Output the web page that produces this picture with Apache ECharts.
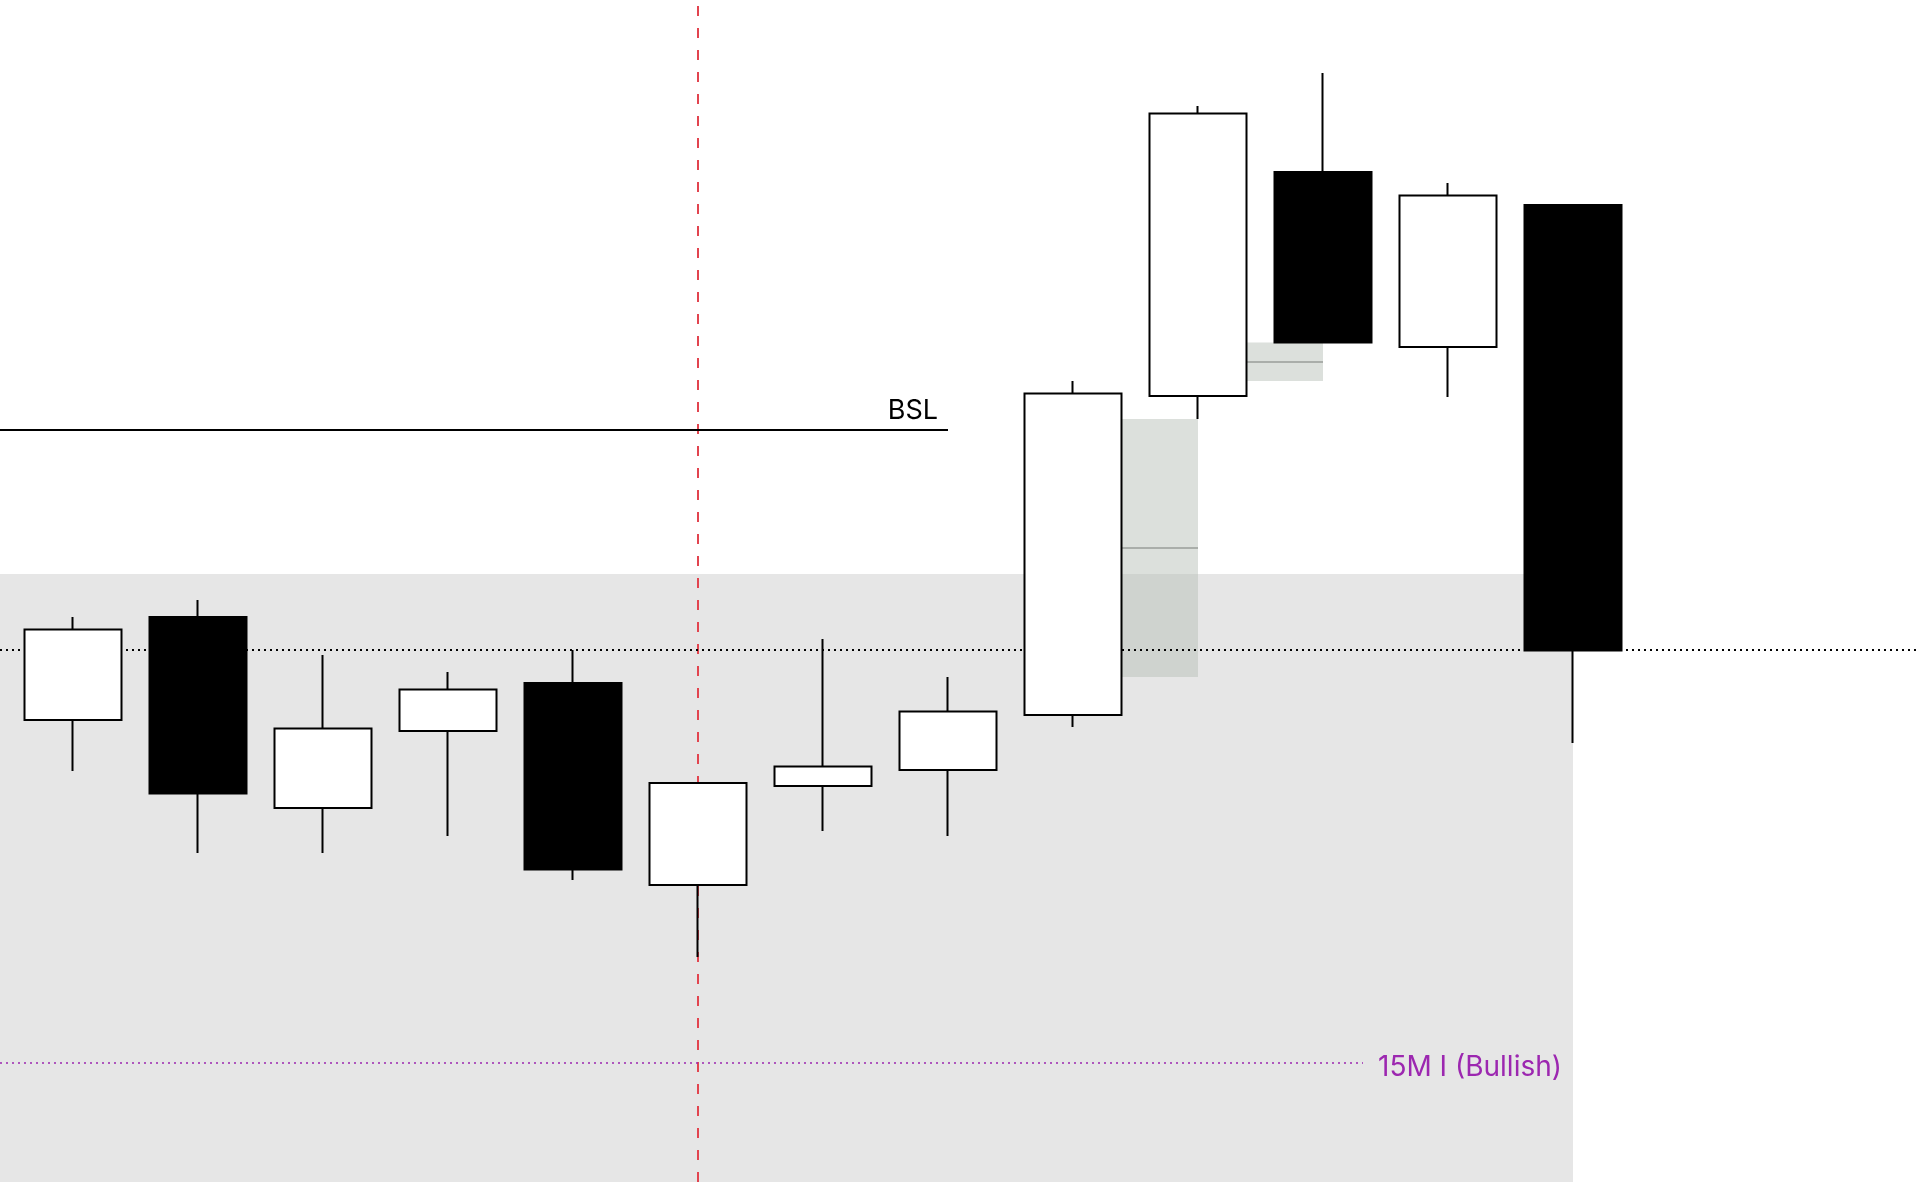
<!DOCTYPE html>
<html>
<head>
<meta charset="utf-8">
<title>15M I (Bullish)</title>
<script src="https://cdn.jsdelivr.net/npm/echarts@6.0.0/dist/echarts.min.js"></script>
<style>
  html, body { margin: 0; padding: 0; background: #fff; }
  #main { width: 1920px; height: 1182px; }
</style>
</head>
<body>
<div id="main"></div>
<script>
// candles, left to right; white = up, black = down
var candleOpen  = [2386.2, 2396.5, 2377.4, 2385.1, 2389.9, 2369.7, 2379.6, 2381.2, 2386.7, 2418.6, 2441.0, 2423.5, 2437.7];
var candleClose = [2395.25, 2378.85, 2385.35, 2389.25, 2371.25, 2379.9, 2381.55, 2387.05, 2418.85, 2446.85, 2423.95, 2438.65, 2393.15];
var candleLow   = [2381.1, 2372.9, 2372.9, 2374.6, 2370.2, 2362.5, 2375.1, 2374.6, 2385.5, 2416.3, 2423.95, 2418.5, 2383.9];
var candleHigh  = [2396.5, 2398.2, 2392.7, 2391.0, 2393.2, 2379.9, 2394.3, 2390.5, 2420.1, 2447.6, 2450.9, 2439.9, 2437.7];

// fair value gaps (bar index from -> to, price range)
var fvgFrom   = [8, 9];
var fvgTo     = [9, 10];
var fvgTop    = [2416.3, 2423.95];
var fvgBottom = [2390.5, 2420.1];

// levels
var bslLevel = 2415.2, bslEnd = 7;
var sweepLevel = 2393.2;
var zoneTop = 2400.8, zoneEnd = 12;
var biasLevel = 2351.9, biasEnd = 10.32, biasText = '15M I (Bullish)';
var markerBar = 5;

// visible window
var X_MIN = -0.584, X_MAX = 14.776;
var Y_MIN = 2340, Y_MAX = 2458.2;

var chart = echarts.init(document.getElementById('main'));

var candles = candleOpen.map(function (o, i) {
  return [i, o, candleClose[i], candleLow[i], candleHigh[i]];
});

var fvgAreas = [], fvgMids = [];
for (var i = 0; i < fvgFrom.length; i++) {
  var mid = (fvgTop[i] + fvgBottom[i]) / 2;
  fvgAreas.push([{ coord: [fvgFrom[i], fvgTop[i]] }, { coord: [fvgTo[i], fvgBottom[i]] }]);
  fvgMids.push([{ coord: [fvgFrom[i], mid] }, { coord: [fvgTo[i], mid] }]);
}

var font = 'Inter, Roboto, sans-serif';

var option = {
  animation: false,
  backgroundColor: '#fff',
  grid: { left: 0, right: 0, top: 0, bottom: 0 },
  xAxis: { type: 'value', min: X_MIN, max: X_MAX, show: false },
  yAxis: { type: 'value', min: Y_MIN, max: Y_MAX, show: false, scale: true },
  series: [
    {
      // range zone
      type: 'line', data: [], z: 1, silent: true,
      markArea: {
        silent: true,
        itemStyle: { color: '#e6e6e6' },
        data: [[{ coord: [X_MIN, zoneTop] }, { coord: [zoneEnd, Y_MIN] }]]
      }
    },
    {
      // FVG boxes
      type: 'line', data: [], z: 2, silent: true,
      markArea: {
        silent: true,
        itemStyle: { color: 'rgba(182,190,182,0.48)' },
        data: fvgAreas
      },
      markLine: {
        silent: true, symbol: ['none', 'none'],
        label: { show: false },
        lineStyle: { color: '#9a9e9a', width: 1.5, type: 'solid' },
        data: fvgMids
      }
    },
    {
      // session marker
      type: 'line', data: [], z: 3, silent: true,
      markLine: {
        silent: true, symbol: ['none', 'none'],
        label: { show: false },
        lineStyle: { color: '#e2444f', width: 2, type: [10, 12] },
        data: [{ xAxis: markerBar }]
      }
    },
    {
      type: 'candlestick',
      z: 5,
      silent: true,
      barWidth: 98,
      encode: { x: 0, y: [1, 2, 3, 4] },
      itemStyle: {
        color: '#ffffff',
        color0: '#000000',
        borderColor: '#000000',
        borderColor0: '#000000',
        borderWidth: 2
      },
      data: candles
    },
    {
      // levels
      type: 'line', data: [], z: 6, silent: true,
      markLine: {
        silent: true, symbol: ['none', 'none'],
        label: { show: false },
        data: [
          [
            {
              coord: [X_MIN, bslLevel],
              lineStyle: { color: '#000', width: 2, type: 'solid' },
              label: {
                show: true, formatter: 'BSL', position: 'insideEndTop',
                distance: [10, 6], color: '#000', fontSize: 27, fontFamily: font
              }
            },
            { coord: [bslEnd, bslLevel] }
          ],
          {
            yAxis: sweepLevel,
            lineStyle: { color: '#000', width: 2, type: [2, 4] },
            label: { show: false }
          },
          [
            {
              coord: [X_MIN, biasLevel],
              lineStyle: { color: '#9c27b0', width: 1.5, type: [2, 4] },
              label: {
                show: true, formatter: biasText, position: 'end',
                distance: 15, offset: [0, 5],
                color: '#9c27b0', fontSize: 28, fontFamily: font
              }
            },
            { coord: [biasEnd, biasLevel] }
          ]
        ]
      }
    }
  ]
};

chart.setOption(option);
</script>
</body>
</html>
